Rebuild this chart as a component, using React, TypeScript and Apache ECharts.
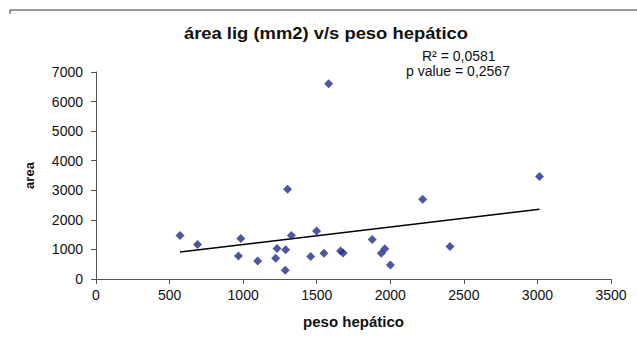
import React, { useEffect, useRef } from "react";
import * as echarts from "echarts";

const pesoHepatico = [571, 690, 984, 968, 1099, 1230, 1221, 1289, 1286, 1302, 1328, 1499, 1459, 1549, 1581, 1662, 1680, 1877, 1939, 1963, 2001, 2220, 2406, 3014];
const area = [1471, 1166, 1370, 782, 612, 1031, 703, 985, 296, 3035, 1471, 1620, 758, 873, 6603, 951, 883, 1336, 873, 1019, 476, 2695, 1098, 3466];
const titleText = "área lig (mm2) v/s peso hepático";
const r2Text = "R² = 0,0581";
const pText = "p value = 0,2567";

function regression(xs: number[], ys: number[]) {
  const n = xs.length;
  const mx = xs.reduce((a, b) => a + b, 0) / n;
  const my = ys.reduce((a, b) => a + b, 0) / n;
  let sxy = 0, sxx = 0;
  for (let i = 0; i < n; i++) {
    sxy += (xs[i] - mx) * (ys[i] - my);
    sxx += (xs[i] - mx) * (xs[i] - mx);
  }
  const slope = sxy / sxx;
  return { slope, intercept: my - slope * mx };
}

export default function App() {
  const ref = useRef<HTMLDivElement>(null);
  useEffect(() => {
    if (!ref.current) return;
    const chart = echarts.init(ref.current, null, { renderer: "svg" });
    const { slope, intercept } = regression(pesoHepatico, area);
    const xmin = Math.min(...pesoHepatico);
    const xmax = Math.max(...pesoHepatico);
    const trend = [
      [xmin, intercept + slope * xmin],
      [xmax, intercept + slope * xmax],
    ];
    const font = "'Liberation Sans', Arial, sans-serif";
    chart.setOption({
      animation: false,
      backgroundColor: "#ffffff",
      textStyle: { fontFamily: font },
      graphic: [
        { type: "line", shape: { x1: 10, y1: 10, x2: 637, y2: 10 }, style: { stroke: "#333", lineWidth: 1 } },
        { type: "line", shape: { x1: 10, y1: 10, x2: 10, y2: 14 }, style: { stroke: "#333", lineWidth: 1 } },
        {
          type: "text",
          x: 326,
          y: 25,
          scaleX: 1.15,
          style: {
            text: titleText,
            fontSize: 16,
            fontWeight: "bold",
            fill: "#111",
            fontFamily: font,
            textAlign: "center",
            textVerticalAlign: "top",
          },
        },
        {
          type: "text",
          x: 422,
          y: 49,
          style: { text: r2Text, fontSize: 14, fill: "#111", fontFamily: font },
        },
        {
          type: "text",
          x: 406,
          y: 64,
          style: { text: pText, fontSize: 14, fill: "#111", fontFamily: font },
        },
      ],
      grid: { left: 96, right: 26, top: 72, bottom: 62, outerBoundsMode: "none" },
      xAxis: {
        type: "value",
        min: 0,
        max: 3500,
        interval: 500,
        name: "peso hepático",
        nameLocation: "middle",
        nameGap: 35,
        nameTextStyle: { fontSize: 15, fontWeight: "bold", color: "#111", fontFamily: font },
        axisLine: { lineStyle: { color: "#555" } },
        axisTick: { show: true, length: 5, lineStyle: { color: "#555" } },
        axisLabel: { fontSize: 14, color: "#111", margin: 9, fontFamily: font, formatter: (v: number) => String(v) },
        splitLine: { show: false },
      },
      yAxis: {
        type: "value",
        min: 0,
        max: 7000,
        interval: 1000,
        name: "area",
        nameLocation: "middle",
        nameGap: 60,
        nameTextStyle: { fontSize: 13, fontWeight: "bold", color: "#111", fontFamily: font },
        axisLine: { show: true, lineStyle: { color: "#555" } },
        axisTick: { show: true, length: 5, lineStyle: { color: "#555" } },
        axisLabel: { fontSize: 14, color: "#111", margin: 13, fontFamily: font, formatter: (v: number) => String(v) },
        splitLine: { show: false },
      },
      series: [
        {
          type: "scatter",
          data: pesoHepatico.map((x, i) => [x, area[i]]),
          symbol: "diamond",
          symbolSize: 9,
          itemStyle: { color: "#222C8C" },
          z: 3,
        },
        {
          type: "line",
          data: trend,
          symbol: "none",
          lineStyle: { color: "#000", width: 1.5 },
          z: 2,
        },
      ],
    });
    return () => chart.dispose();
  }, []);
  return <div ref={ref} style={{ position: "absolute", left: 0, top: 0, width: 637, height: 341 }} />;
}
